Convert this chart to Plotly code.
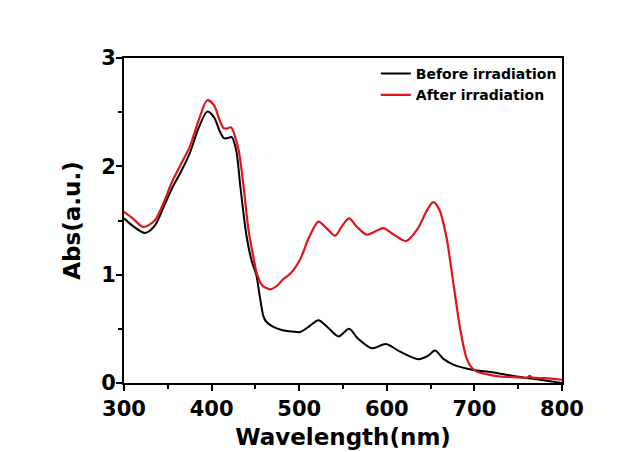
import plotly.graph_objects as go

# UV-vis absorption spectra before and after irradiation
wl_before = [300, 310, 324, 335, 345, 355, 365, 375, 385, 395, 403, 409, 414, 418, 423,
             428, 433, 440, 446, 451, 455, 459, 462, 470, 480, 492, 501, 511, 522, 533,
             545, 557, 567, 583, 599, 615, 636, 647, 655, 665, 676, 699, 720, 748, 775, 800]
abs_before = [1.52, 1.45, 1.385, 1.45, 1.62, 1.80, 1.95, 2.12, 2.35, 2.505, 2.45, 2.33, 2.26,
              2.26, 2.27, 2.15, 1.80, 1.35, 1.12, 1.00, 0.80, 0.62, 0.57, 0.52, 0.49, 0.475,
              0.47, 0.52, 0.58, 0.51, 0.43, 0.50, 0.41, 0.32, 0.36, 0.29, 0.22, 0.25, 0.30,
              0.22, 0.17, 0.12, 0.10, 0.06, 0.03, 0.0]

wl_after = [300, 310, 322, 335, 345, 355, 365, 375, 385, 395, 403, 409, 414, 418, 422,
            430, 436, 442, 448, 452, 458, 467, 475, 482, 490, 501, 511, 522, 531, 541,
            549, 557, 566, 577, 587, 596, 608, 622, 635, 645, 653, 660, 668, 676, 684,
            691, 697, 703, 715, 729, 745, 760, 763, 766, 780, 800]
abs_after = [1.58, 1.52, 1.44, 1.50, 1.66, 1.86, 2.02, 2.18, 2.42, 2.61, 2.56, 2.43, 2.35,
             2.35, 2.36, 2.18, 1.85, 1.42, 1.15, 1.00, 0.90, 0.865, 0.90, 0.96, 1.01, 1.14,
             1.34, 1.49, 1.43, 1.36, 1.45, 1.52, 1.44, 1.37, 1.40, 1.43, 1.37, 1.31, 1.42,
             1.58, 1.67, 1.60, 1.35, 0.92, 0.49, 0.23, 0.14, 0.105, 0.08, 0.06, 0.055, 0.05,
             0.065, 0.05, 0.045, 0.03]

x_ticks = [300, 400, 500, 600, 700, 800]
y_ticks = [0, 1, 2, 3]

font_family = "DejaVu Sans"

fig = go.Figure()
fig.add_trace(go.Scatter(x=wl_before, y=abs_before, mode="lines", name="Before irradiation",
                         line=dict(color="black", width=2, shape="spline", smoothing=0.8)))
fig.add_trace(go.Scatter(x=wl_after, y=abs_after, mode="lines", name="After irradiation",
                         line=dict(color="#e0141b", width=2.2, shape="spline", smoothing=0.8)))

axis_common = dict(showline=True, linecolor="black", linewidth=2, mirror=True,
                   ticks="outside", ticklen=6, tickwidth=2, tickcolor="black",
                   showgrid=False, zeroline=False, automargin=False,
                   tickfont=dict(family=font_family, size=21, color="black", weight="bold"))

fig.update_xaxes(range=[300, 800], tickvals=x_ticks,
                 minor=dict(ticks="outside", ticklen=4, tickwidth=2, dtick=50, tickcolor="black"),
                 title=dict(text="Wavelength(nm)", standoff=9,
                            font=dict(family=font_family, size=23, color="black", weight="bold")),
                 **axis_common)
fig.update_yaxes(range=[0, 3], tickvals=y_ticks, ticklabelstandoff=-4,
                 minor=dict(ticks="outside", ticklen=4, tickwidth=2, dtick=0.5, tickcolor="black"),
                 title=dict(text="Abs(a.u.)", standoff=14,
                            font=dict(family=font_family, size=23, color="black", weight="bold")),
                 **axis_common)

fig.update_layout(
    width=636, height=452,
    margin=dict(l=124, r=74, t=58, b=69),
    paper_bgcolor="white", plot_bgcolor="white",
    showlegend=True,
    legend=dict(x=0.575, y=1.0, xanchor="left", yanchor="top",
                bgcolor="rgba(0,0,0,0)", borderwidth=0, tracegroupgap=0,
                font=dict(family=font_family, size=14, color="black", weight="bold")),
)

fig.write_html("out.html")
